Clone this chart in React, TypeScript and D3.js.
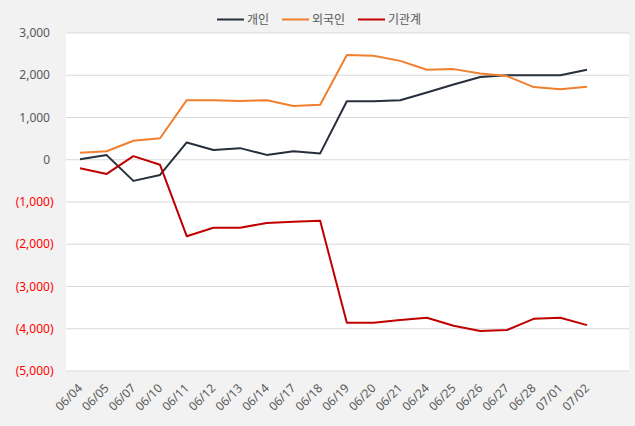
import React from "react";
import * as d3 from "d3";

const categories = ["06/04","06/05","06/07","06/10","06/11","06/12","06/13","06/14","06/17","06/18","06/19","06/20","06/21","06/24","06/25","06/26","06/27","06/28","07/01","07/02"];
const individual = [10,110,-500,-360,410,230,275,115,200,150,1385,1385,1410,1590,1780,1960,2000,2000,2000,2130];
const foreign = [165,200,450,510,1410,1410,1390,1410,1270,1300,2480,2460,2340,2130,2145,2040,1980,1720,1670,1725];
const institution = [-200,-335,85,-120,-1810,-1610,-1610,-1495,-1470,-1445,-3860,-3860,-3795,-3740,-3930,-4055,-4030,-3765,-3740,-3915];
const yTicks = [3000,2000,1000,0,-1000,-2000,-3000,-4000,-5000];
const seriesNames = ["개인","외국인","기관계"];
const seriesColors = ["#262f3b","#f07f2e","#c00000"];

const W = 635, H = 426;
const plot = { left: 66, right: 629, top: 33, bottom: 371 };

export default function App() {
  const x = d3.scalePoint<string>().domain(categories).range([80, 587]);
  const y = d3.scaleLinear().domain([-5000, 3000]).range([plot.bottom, plot.top]);
  const line = d3.line<number>().x((_, i) => x(categories[i])!).y(d => y(d));
  const all = [individual, foreign, institution];
  const fmt = d3.format(",");
  const font = "'Noto Sans', 'Noto Sans CJK KR', sans-serif";
  const legendX = [217, 282, 358];
  return (
    <div style={{ position: "fixed", left: 0, top: 0 }}>
      <svg width={W} height={H} style={{ display: "block", fontFamily: font }}>
        <rect x={0} y={0} width={W} height={H} fill="#f2f2f2" />
        <rect x={plot.left} y={plot.top} width={plot.right - plot.left} height={plot.bottom - plot.top} fill="#ffffff" />
        {yTicks.map(t => (
          <g key={t}>
            <line x1={plot.left} x2={plot.right} y1={y(t)} y2={y(t)} stroke="#d9d9d9" strokeWidth={1} />
            <text x={t < 0 ? 53.5 : 50} y={y(t)} dy="0.35em" textAnchor="end" fontSize={12} fill={t < 0 ? "#ff0000" : "#595959"}>
              {t < 0 ? `(${fmt(-t)})` : fmt(t)}
            </text>
          </g>
        ))}
        {categories.map(c => (
          <text key={c} transform={`translate(${x(c)! + 3},${389}) rotate(-45)`} textAnchor="end" fontSize={12} fill="#595959">{c}</text>
        ))}
        {all.map((s, i) => (
          <path key={i} d={line(s)!} fill="none" stroke={seriesColors[i]} strokeWidth={2} strokeLinejoin="round" />
        ))}
        {seriesNames.map((n, i) => (
          <g key={n}>
            <line x1={legendX[i]} x2={legendX[i] + 27} y1={19.5} y2={19.5} stroke={seriesColors[i]} strokeWidth={2} />
            <text x={legendX[i] + 30} y={19.5} dy="0.35em" fontSize={12} fill="#595959">{n}</text>
          </g>
        ))}
      </svg>
    </div>
  );
}
